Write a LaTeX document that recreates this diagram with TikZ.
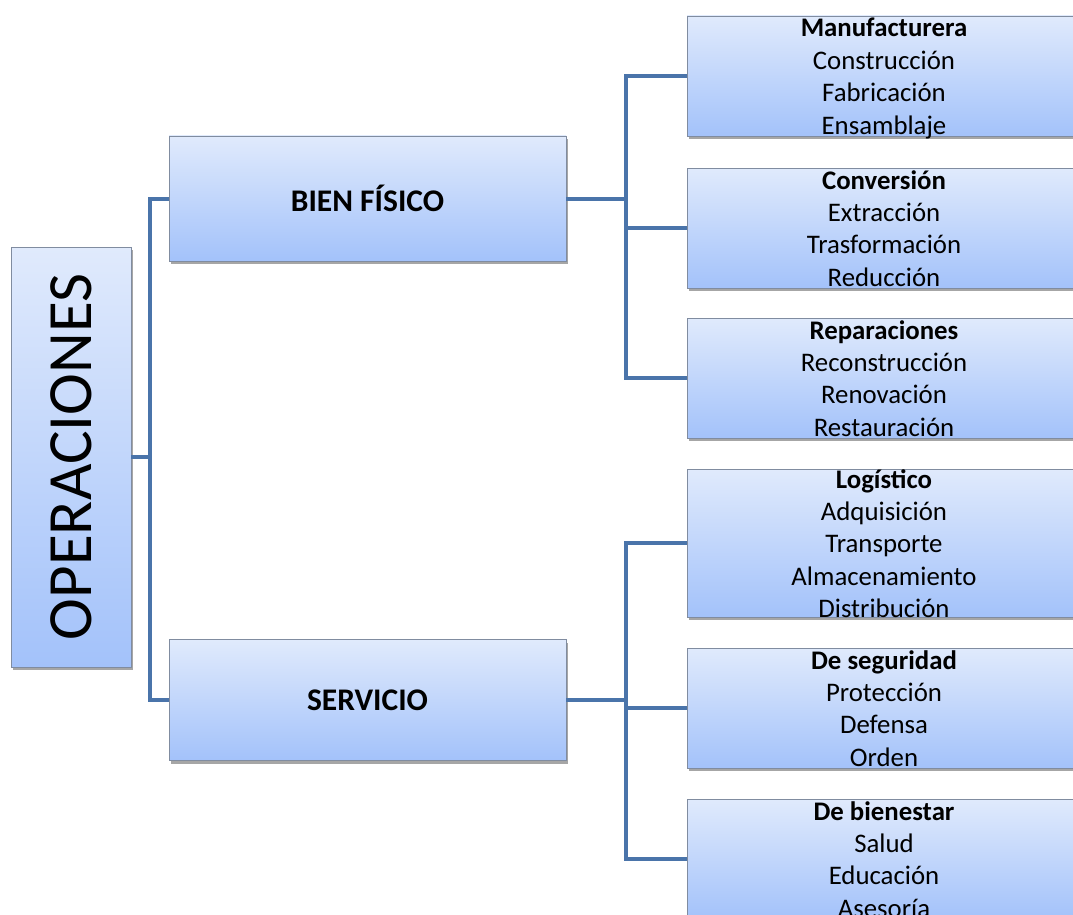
\documentclass[tikz,border=0pt]{standalone}
\usepackage{fontspec}
\setmainfont{Carlito}
\usetikzlibrary{shadows}
\definecolor{boxtop}{RGB}{224,234,252}
\definecolor{boxbot}{RGB}{163,194,250}
\definecolor{boxline}{RGB}{128,140,160}
\definecolor{connblue}{RGB}{74,116,170}
\tikzset{
  box/.style={rectangle, draw=boxline, line width=0.8pt,
    top color=boxtop, bottom color=boxbot, inner sep=0pt,
    drop shadow={shadow xshift=2pt, shadow yshift=-3pt, opacity=0.35, fill=black}},
  conn/.style={draw=connblue, line width=4pt},
  itemtext/.style={anchor=base, inner sep=0pt, font=\fontsize{26.8}{32.4}\selectfont},
  midtext/.style={inner sep=0pt, font=\fontsize{31.5}{36}\selectfont\bfseries}
}
\newcommand{\itemlist}[2]{\begin{tabular}[t]{@{}c@{}}\textbf{#1}\\#2\end{tabular}}
\begin{document}
\begin{tikzpicture}[x=1pt,y=-1pt]
\useasboundingbox (0,0) rectangle (1073,915);
\clip (0,0) rectangle (1073,915);

% root
\node[box, minimum width=120pt, minimum height=420pt] (op) at (71,457) {};
\node[rotate=90, inner sep=0pt, font=\fontsize{63}{70}\selectfont] (optext) at (op.center) {OPERACIONES};

% second level
\node[box, minimum width=397pt, minimum height=125pt] (bf) at (367.5,198.5) {};
\node[midtext] (bftext) at (bf.center) {BIEN FÍSICO};
\node[box, minimum width=397pt, minimum height=121pt] (sv) at (367.5,700) {};
\node[midtext] (svtext) at (sv.center) {SERVICIO};

% third level boxes
\node[box, minimum width=396pt, minimum height=120pt] (m1) at (885,76) {};
\node[box, minimum width=396pt, minimum height=120pt] (m2) at (885,228) {};
\node[box, minimum width=396pt, minimum height=120pt] (m3) at (885,378) {};
\node[box, minimum width=396pt, minimum height=148pt] (s1) at (885,543) {};
\node[box, minimum width=396pt, minimum height=120pt] (s2) at (885,708) {};
\node[box, minimum width=396pt, minimum height=120pt] (s3) at (885,859) {};

\node[itemtext] (t1) at (884,37) {\itemlist{Manufacturera}{Construcción\\Fabricación\\Ensamblaje}};
\node[itemtext] (t2) at (884,189) {\itemlist{Conversión}{Extracción\\Trasformación\\Reducción}};
\node[itemtext] (t3) at (884,339) {\itemlist{Reparaciones}{Reconstrucción\\Renovación\\Restauración}};
\node[itemtext] (t4) at (884,488) {\itemlist{Logístico}{Adquisición\\Transporte\\Almacenamiento\\Distribución}};
\node[itemtext] (t5) at (884,669) {\itemlist{De seguridad}{Protección\\Defensa\\Orden}};
\node[itemtext] (t6) at (884,820) {\itemlist{De bienestar}{Salud\\Educación\\Asesoría}};

% connectors
\draw[conn] (op.east) -- ++(19,0) |- (bf.west);
\draw[conn] (op.east) -- ++(19,0) |- (sv.west);
\draw[conn] (bf.east) -- ++(60,0) |- (m1.west);
\draw[conn] (bf.east) -- ++(60,0) |- (m2.west);
\draw[conn] (bf.east) -- ++(60,0) |- (m3.west);
\draw[conn] (sv.east) -- ++(60,0) |- (s1.west);
\draw[conn] (sv.east) -- ++(60,0) |- (s2.west);
\draw[conn] (sv.east) -- ++(60,0) |- (s3.west);
\end{tikzpicture}
\end{document}
